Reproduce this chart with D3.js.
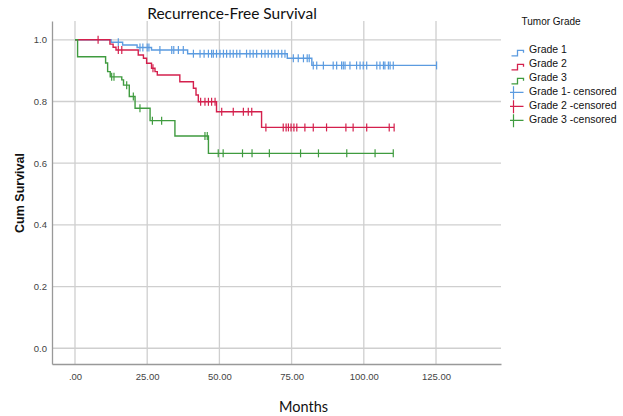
<!DOCTYPE html>
<html>
<head>
<meta charset="utf-8">
<script src="https://cdn.jsdelivr.net/npm/d3@7"></script>
<style>
  body { margin: 0; background: #fff; }
  #chart { width: 623px; height: 416px; }
  text { font-family: "Liberation Sans", Arial, sans-serif; }
</style>
</head>
<body>
<div id="chart"></div>
<script>
// step curves: event times (months) and survival right after them
var g1Time = [0, 12.5, 16.5, 21.5, 26.5, 39, 73.5, 82, 125.2];
var g1Surv = [1, 0.992, 0.983, 0.975, 0.967, 0.955, 0.940, 0.917, 0.917];
var g2Time = [0, 12.1, 13.2, 14.2, 21.9, 23.7, 24.8, 26.5, 27.7, 28.5, 36.3, 41, 41.9, 42.7, 49, 64.6, 110.5];
var g2Surv = [1, 0.986, 0.976, 0.967, 0.951, 0.940, 0.924, 0.908, 0.897, 0.886, 0.864, 0.843, 0.821, 0.799, 0.767, 0.716, 0.716];
var g3Time = [0, 0.9, 10.6, 11.3, 12.2, 16.2, 16.8, 18.8, 20.8, 26, 34.6, 46.2, 110.2];
var g3Surv = [1, 0.945, 0.925, 0.897, 0.880, 0.870, 0.853, 0.816, 0.778, 0.738, 0.688, 0.632, 0.632];

// censored times
var g1Cens = [15, 22.5, 23.5, 25, 25.6, 29.4, 33.5, 34.2, 35.8, 37.5,
  41, 43.3, 44.7, 46.2, 47.3, 47.9, 49, 50.2, 51.4, 52.5, 53.7, 54.8, 56, 57.1, 59.4, 60.6, 61.7, 62.9,
  64.6, 65.8, 66.9, 68.1, 69.2, 70.4, 71.6, 72.7,
  75.6, 77.3, 79.1, 80.4, 81.1,
  82.5, 83.7, 86, 89.4, 90.6, 92.3, 92.9, 93.5, 95.2, 97.5, 98.7, 99.8, 101, 104.5, 105.6, 106.8, 107.3, 108.5, 109.1, 110.2, 125.2];
var g2Cens = [8, 15, 16.2, 27, 43.5, 45, 46.2, 47.3, 48.5, 50.8, 54.8, 58.3, 60, 61.2,
  66.1, 72.1, 73.1, 73.9, 74.8, 75.8, 76.8, 79.6, 82.5, 87.1, 93.8, 96.3, 101, 108.8, 110.5];
var g3Cens = [12.7, 13.5, 17.9, 20.2, 22.5, 26.8, 30, 45, 45.8,
  49.6, 51.3, 58, 61.3, 67.3, 78.1, 84.3, 94.1, 103.9, 110.2];

var xTicks = [0, 25, 50, 75, 100, 125];
var xTickLabels = [".00", "25.00", "50.00", "75.00", "100.00", "125.00"];
var yTicks = [0, 0.2, 0.4, 0.6, 0.8, 1.0];
var yTickLabels = ["0.0", "0.2", "0.4", "0.6", "0.8", "1.0"];

var groups = ["Grade 1", "Grade 2", "Grade 3"];
var censLabels = ["Grade 1- censored", "Grade 2 -censored", "Grade 3 -censored"];
var colors = ["#5b9be0", "#d4204d", "#3f9b3f"];

var series = [
  {time: g1Time, surv: g1Surv, cens: g1Cens},
  {time: g2Time, surv: g2Surv, cens: g2Cens},
  {time: g3Time, surv: g3Surv, cens: g3Cens}
];

var width = 623, height = 416,
    plotL = 52, plotR = 501, plotT = 21, plotB = 364;

var x = d3.scaleLinear().domain([-7.96, 147.5]).range([plotL, plotR]);
var y = d3.scaleLinear().domain([-0.051, 1.061]).range([plotB, plotT]);

var svg = d3.select("#chart").append("svg")
  .attr("width", width)
  .attr("height", height);

// grid
svg.append("g").selectAll("line")
  .data(yTicks).enter().append("line")
  .attr("x1", plotL).attr("x2", plotR)
  .attr("y1", function(d){ return y(d); })
  .attr("y2", function(d){ return y(d); })
  .attr("stroke", "#cfcfcf").attr("stroke-width", 1.3);
svg.append("g").selectAll("line")
  .data(xTicks).enter().append("line")
  .attr("y1", plotT).attr("y2", plotB)
  .attr("x1", function(d){ return x(d); })
  .attr("x2", function(d){ return x(d); })
  .attr("stroke", "#cfcfcf").attr("stroke-width", 1.3);

// axes
var xAxis = d3.axisBottom(x).tickValues(xTicks).tickSize(0).tickPadding(9)
  .tickFormat(function(d, i){ return xTickLabels[i]; });
var yAxis = d3.axisLeft(y).tickValues(yTicks).tickSize(0).tickPadding(5)
  .tickFormat(function(d, i){ return yTickLabels[i]; });

var gx = svg.append("g").attr("transform", "translate(0," + plotB + ")").call(xAxis);
var gy = svg.append("g").attr("transform", "translate(" + plotL + ",0)").call(yAxis);
[gx, gy].forEach(function(g){
  g.select(".domain").attr("stroke", "#999").attr("stroke-width", 1.3);
  g.selectAll("text").attr("fill", "#444").style("font-size", "9.5px")
    .style("font-family", "'Liberation Sans Narrow', 'Liberation Sans', Arial, sans-serif");
});

// curves
var line = d3.line()
  .x(function(d){ return x(d[0]); })
  .y(function(d){ return y(d[1]); })
  .curve(d3.curveStepAfter);

function survAt(s, t) {
  var v = s.surv[0];
  for (var i = 0; i < s.time.length; i++) if (s.time[i] <= t) v = s.surv[i];
  return v;
}

series.forEach(function(s, k) {
  var pts = s.time.map(function(t, i){ return [t, s.surv[i]]; });
  svg.append("path")
    .attr("d", line(pts))
    .attr("fill", "none")
    .attr("stroke", colors[k])
    .attr("stroke-width", 1.4);
  svg.append("g").selectAll("line")
    .data(s.cens).enter().append("line")
    .attr("x1", function(d){ return x(d); })
    .attr("x2", function(d){ return x(d); })
    .attr("y1", function(d){ return y(survAt(s, d)) - 4; })
    .attr("y2", function(d){ return y(survAt(s, d)) + 4; })
    .attr("stroke", colors[k])
    .attr("stroke-width", 1.2);
});

// titles
svg.append("text")
  .attr("x", 232).attr("y", 18.5)
  .attr("text-anchor", "middle")
  .style("font-family", "Lato, 'Open Sans', sans-serif")
  .style("font-size", "15.5px")
  .attr("fill", "#111")
  .text("Recurrence-Free Survival");

svg.append("text")
  .attr("transform", "translate(24,193) rotate(-90)")
  .attr("text-anchor", "middle")
  .style("font-size", "12.5px")
  .style("font-weight", "bold")
  .attr("fill", "#111")
  .text("Cum Survival");

svg.append("text")
  .attr("x", 303.5).attr("y", 411.5)
  .attr("text-anchor", "middle")
  .style("font-family", "Lato, 'Open Sans', sans-serif")
  .style("font-size", "14.5px")
  .attr("fill", "#111")
  .text("Months");

// legend
var legend = svg.append("g").style("font-family", "Lato, 'Open Sans', sans-serif");
legend.append("text")
  .attr("x", 521.5).attr("y", 25)
  .style("font-size", "10px")
  .attr("fill", "#111")
  .text("Tumor Grade");

var rowY = 53.3, rowStep = 14;
groups.forEach(function(g, i) {
  var by = rowY + i * rowStep;
  legend.append("path")
    .attr("d", "M511.5," + (by + 2.5) + "H517.5V" + (by - 3) + "H523.5V" + (by - 0.5))
    .attr("fill", "none").attr("stroke", colors[i]).attr("stroke-width", 1.3);
  legend.append("text")
    .attr("x", 529).attr("y", by)
    .style("font-size", "10.5px").attr("fill", "#111")
    .text(g);
});
censLabels.forEach(function(g, i) {
  var by = rowY + (i + 3) * rowStep;
  legend.append("path")
    .attr("d", "M510," + (by - 3) + "H523.5M513.5," + (by - 9) + "V" + (by + 4))
    .attr("fill", "none").attr("stroke", colors[i]).attr("stroke-width", 1.2);
  legend.append("text")
    .attr("x", 529).attr("y", by)
    .style("font-size", "10.5px").attr("fill", "#111")
    .text(g);
});
</script>
</body>
</html>
